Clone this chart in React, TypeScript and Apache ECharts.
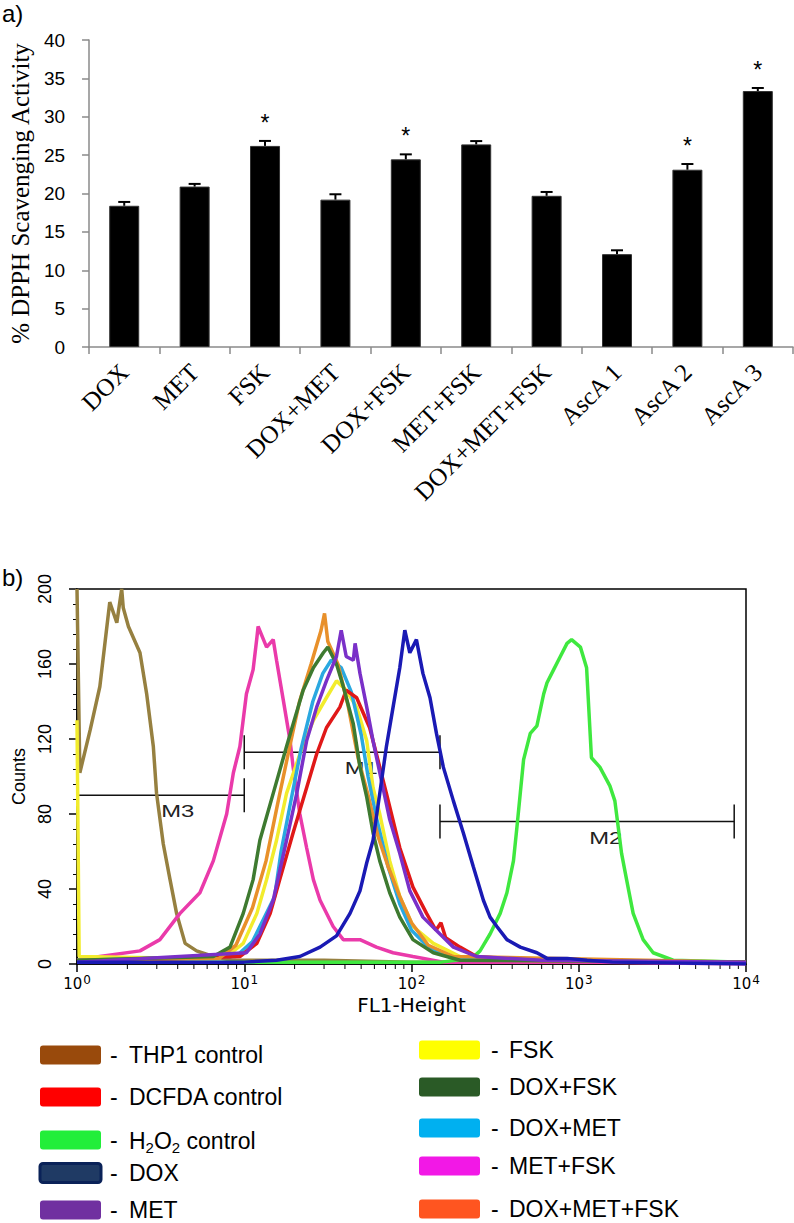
import React, { useEffect, useRef } from 'react';
import * as echarts from 'echarts';

// ---------- Panel a) DPPH scavenging ----------
const categories = ['DOX', 'MET', 'FSK', 'DOX+MET', 'DOX+FSK', 'MET+FSK', 'DOX+MET+FSK', 'AscA 1', 'AscA 2', 'AscA 3'];
const scavenging = [18.4, 20.9, 26.2, 19.2, 24.45, 26.4, 19.7, 12.1, 23.1, 33.35];
const scavengingErr = [0.5, 0.35, 0.65, 0.7, 0.65, 0.43, 0.5, 0.5, 0.74, 0.4];
const significant = [0, 0, 1, 0, 1, 0, 0, 0, 1, 1];

// ---------- Panel b) flow cytometry histogram ([FL1-Height, Counts]) ----------
const thp1Control = [[1, 200], [1.04, 102], [1.2, 125], [1.37, 148], [1.5, 178], [1.57, 193], [1.73, 182], [1.85, 200], [1.89, 190], [2.03, 180], [2.38, 166], [2.61, 144], [2.86, 116], [2.99, 91], [3.28, 64], [3.6, 45], [3.94, 27], [4.43, 11], [5.19, 7], [6.53, 4], [8.5, 2], [30, 2], [100, 1], [1000, 1], [10000, 1]];
const dcfdaControl = [[1, 1], [9.42, 4], [11.9, 11], [14.3, 27], [16.3, 45], [19.6, 70], [23.6, 94], [27.1, 112], [31.0, 126], [37.3, 137], [40.7, 146], [47, 142], [56.2, 126], [61.7, 112], [70.8, 91], [85.1, 62], [102, 41], [123, 27], [140, 18], [150, 22], [160, 14], [195, 9], [245, 4], [500, 2], [10000, 1]];
const h2o2Control = [[1, 1], [150, 1], [230, 3], [257, 7], [295, 16], [339, 27], [372, 38], [407, 55], [427, 73], [447, 91], [468, 109], [513, 123], [562, 127], [617, 144], [646, 150], [708, 157], [776, 164], [851, 171], [906, 173], [1023, 169], [1114, 158], [1191, 110], [1337, 105], [1535, 95], [1644, 87], [1722, 73], [1803, 59], [1932, 45], [2115, 27], [2427, 13], [2786, 6], [3670, 2], [10000, 1]];
const dox = [[1, 1], [10, 1], [15.6, 2], [21.5, 4], [28.4, 9], [35.6, 15], [42.9, 27], [49.2, 39], [54, 54], [58.9, 66], [64.6, 91], [70.8, 116], [77.6, 137], [85.1, 158], [91.2, 178], [97.7, 166], [107, 173], [117, 155], [129, 142], [141, 123], [155, 105], [178, 87], [204, 70], [234, 52], [269, 34], [295, 25], [324, 20], [372, 13], [447, 9], [562, 6], [646, 3], [851, 3], [1122, 2], [1585, 1], [10000, 0]];
const met = [[1, 1], [10.3, 6], [12.4, 16], [14.9, 34], [17.9, 66], [20.6, 91], [23.6, 119], [27.1, 137], [31.0, 151], [35.6, 164], [38.0, 178], [40.7, 164], [44.9, 162], [46, 171], [49.2, 155], [54.0, 137], [58.9, 119], [64.6, 102], [74.1, 77], [85.1, 59], [97.7, 39], [117, 25], [148, 16], [178, 9], [245, 4], [600, 2], [10000, 1]];
const fsk = [[1, 130], [1.03, 4], [5, 3], [7.85, 4], [9.86, 11], [11.9, 27], [13.6, 45], [15.6, 66], [17.9, 91], [21.5, 112], [25.9, 130], [31.0, 142], [35.6, 151], [40.7, 146], [47.0, 137], [54.0, 119], [58.9, 94], [64.6, 80], [74.1, 55], [85.1, 36], [102, 20], [135, 11], [195, 4], [400, 2], [10000, 1]];
const doxFsk = [[1, 2], [6.53, 4], [8.22, 9], [9.86, 27], [11.3, 45], [12.4, 66], [14.9, 91], [17.9, 116], [19.6, 128], [22.5, 146], [25.9, 158], [29.7, 166], [31.6, 169], [35.6, 160], [39.1, 148], [44.9, 128], [49.2, 105], [54.0, 89], [58.9, 70], [64.6, 55], [74.1, 38], [85.1, 25], [102, 13], [135, 6], [195, 2], [10000, 1]];
const doxMet = [[1, 2], [8.91, 4], [11.2, 12], [15.2, 36], [16.6, 60], [19.1, 88], [21.9, 115], [25.7, 140], [29.5, 155], [33.1, 162], [38.0, 158], [43.7, 145], [50.1, 122], [55, 100], [61.7, 78], [72.4, 52], [85.1, 32], [100, 18], [126, 9], [178, 3], [10000, 1]];
const metFsk = [[1, 2], [1.37, 4], [2.38, 7], [3.13, 13], [4.13, 27], [5.43, 38], [6.53, 55], [7.85, 80], [8.61, 102], [9.42, 116], [10.3, 144], [11.3, 157], [11.9, 174], [12.1, 180], [13.6, 169], [14.9, 173], [15.6, 162], [17.1, 141], [18.8, 119], [19.6, 105], [21.5, 80], [23.6, 62], [25.9, 45], [28.4, 34], [34.0, 20], [39.1, 13], [49.2, 13], [61.7, 9], [77.6, 6], [102, 4], [155, 1], [1000, 1], [10000, 0]];
const doxMetFsk = [[1, 2], [7.08, 3], [8.91, 10], [11.2, 30], [13.5, 55], [15.8, 85], [18.6, 115], [21.4, 140], [25.1, 160], [28.8, 178], [30.2, 187], [31.6, 172], [36.3, 160], [41.7, 138], [47.9, 110], [55, 90], [63.1, 68], [72.4, 52], [85.1, 36], [100, 22], [126, 10], [178, 4], [10000, 1]];

const histNames = ['THP1 control', 'MET+FSK', 'H2O2 control', 'FSK', 'DOX+MET', 'DCFDA control', 'DOX+MET+FSK', 'DOX+FSK', 'MET', 'DOX'];
const histData = [thp1Control, metFsk, h2o2Control, fsk, doxMet, dcfdaControl, doxMetFsk, doxFsk, met, dox];
const histColors = ['#968040', '#EA3AAA', '#3FE83F', '#F2EC2C', '#2AA8E0', '#E01818', '#E8902A', '#3E7A30', '#7A30C8', '#1A1AB4'];

const gateNames = ['M3', 'M1', 'M2'];
const gateFrom = [1, 10, 148];
const gateTo = [10, 148, 8500];
const gateLevel = [90, 113, 76];
const gateLabelX = [4.0, 50, 1450];

const minorMultipliers = [2, 3, 4, 5, 6, 7, 8, 9];
const decades = [1, 10, 100, 1000];

// ---------- Legend ----------
const legendLeftNames = ['THP1 control', 'DCFDA control', 'H2O2 control', 'DOX', 'MET'];
const legendLeftColors = ['#994A0C', '#FF0000', '#22EE3A', '#1F3A64', '#7030A0'];
const legendRightNames = ['FSK', 'DOX+FSK', 'DOX+MET', 'MET+FSK', 'DOX+MET+FSK'];
const legendRightColors = ['#FFFF00', '#2A5A26', '#00B0F0', '#F218E6', '#FF5520'];
const legendLeftRows = [1055, 1097, 1140, 1173, 1210];
const legendRightRows = [1050, 1087, 1128, 1166, 1209];

const SANS = '"Liberation Sans", Arial, sans-serif';
const SERIF = '"Liberation Serif", "Times New Roman", serif';
const WIDE = '"DejaVu Sans", sans-serif';

function legendItems(names: string[], colors: string[], rows: number[], rectX: number, dashX: number, textX: number) {
  const out: any[] = [];
  names.forEach((n, i) => {
    const c = rows[i];
    const isDox = n === 'DOX';
    out.push({
      type: 'rect',
      shape: { x: rectX, y: c - 9.5, width: 61, height: 19, r: 3 },
      style: isDox ? { fill: colors[i], stroke: '#0A2258', lineWidth: 3 } : { fill: colors[i] },
    });
    out.push({
      type: 'text', x: dashX, y: c,
      style: { text: '-', fontFamily: SANS, fontSize: 23, lineHeight: 23, fill: '#000', align: 'left', verticalAlign: 'middle' },
    });
    if (n === 'H2O2 control') {
      out.push({
        type: 'text', x: textX, y: c + 2,
        style: {
          text: '{a|H}{s|2}{a|O}{s|2}{a| control}',
          align: 'left', verticalAlign: 'middle',
          rich: {
            a: { fontFamily: SANS, fontSize: 23, fill: '#000', lineHeight: 26, verticalAlign: 'top' },
            s: { fontFamily: SANS, fontSize: 15, fill: '#000', lineHeight: 15, verticalAlign: 'bottom', padding: [14, 0, 0, 0] },
          },
        },
      });
    } else {
      out.push({
        type: 'text', x: textX, y: c,
        style: { text: n, fontFamily: SANS, fontSize: 23, lineHeight: 23, fill: '#000', align: 'left', verticalAlign: 'middle' },
      });
    }
  });
  return out;
}

export default function App() {
  const ref = useRef<HTMLDivElement>(null);
  useEffect(() => {
    if (!ref.current) return;
    const chart = echarts.init(ref.current, null, { renderer: 'svg' });

    const errData = categories.map((_, i) => [i, scavenging[i], scavengingErr[i], significant[i]]);
    const gateData = gateNames.map((_, i) => [gateFrom[i], gateTo[i], gateLevel[i], gateLabelX[i]]);
    const minorData: number[][] = [];
    decades.forEach((d) => minorMultipliers.forEach((m) => minorData.push([m * d, 0])));

    const option: any = {
      animation: false,
      backgroundColor: '#fff',
      grid: [
        { left: 77, top: 40, width: 716, height: 307 },
        { left: 77, top: 589, width: 669, height: 375, show: true, borderColor: '#000', borderWidth: 1.5, backgroundColor: 'transparent' },
      ],
      xAxis: [
        {
          gridIndex: 0, type: 'category', data: categories,
          axisLine: { lineStyle: { color: '#8a8a8a', width: 1.5 } },
          axisTick: { show: true, length: 7, lineStyle: { color: '#8a8a8a', width: 1.5 } },
          axisLabel: { interval: 0, rotate: 45, margin: 21, fontFamily: SERIF, fontSize: 25, color: '#000' },
          splitLine: { show: false },
        },
        {
          gridIndex: 1, type: 'log', logBase: 10, min: 1, max: 10000,
          axisLine: { onZero: false, lineStyle: { color: '#000', width: 1.5 } },
          axisTick: { show: true, length: 8, lineStyle: { color: '#000', width: 1.5 } },
          splitLine: { show: false },
          axisLabel: {
            margin: 10,
            formatter: (v: number) => `{b|10}{s|${Math.round(Math.log10(v))}}`,
            rich: {
              b: { fontFamily: WIDE, fontSize: 15, color: '#000', verticalAlign: 'bottom', lineHeight: 17 },
              s: { fontFamily: WIDE, fontSize: 12, color: '#000', verticalAlign: 'top', lineHeight: 13, padding: [0, 0, 8, 1] },
            },
          },
          name: 'FL1-Height', nameLocation: 'middle', nameGap: 28,
          nameTextStyle: { fontFamily: WIDE, fontSize: 20, color: '#000' },
        },
      ],
      yAxis: [
        {
          gridIndex: 0, type: 'value', min: 0, max: 40, interval: 5,
          axisLine: { show: true, lineStyle: { color: '#8a8a8a', width: 1.5 } },
          axisTick: { show: true, length: 7, lineStyle: { color: '#8a8a8a', width: 1.5 } },
          splitLine: { show: false },
          axisLabel: { fontFamily: SANS, fontSize: 19, color: '#000', margin: 24 },
          name: '% DPPH Scavenging Activity', nameLocation: 'middle', nameGap: 52,
          nameTextStyle: { fontFamily: SERIF, fontSize: 25, color: '#000' },
        },
        {
          gridIndex: 1, type: 'value', min: 0, max: 200, interval: 40,
          axisLine: { show: true, onZero: false, lineStyle: { color: '#000', width: 1.5 } },
          axisTick: { show: true, length: 8, lineStyle: { color: '#000', width: 1.5 } },
          minorTick: { show: true, splitNumber: 5, length: 4, lineStyle: { color: '#000', width: 1 } },
          splitLine: { show: false },
          minorSplitLine: { show: false },
          axisLabel: { rotate: 90, margin: 23, fontFamily: SANS, fontSize: 18, color: '#000' },
          name: 'Counts', nameLocation: 'middle', nameGap: 48,
          nameTextStyle: { fontFamily: SANS, fontSize: 18, color: '#000' },
        },
      ],
      series: [
        {
          type: 'bar', xAxisIndex: 0, yAxisIndex: 0, data: scavenging, barWidth: 30,
          itemStyle: { color: '#000', borderColor: '#333', borderWidth: 1 }, silent: true,
        },
        {
          type: 'custom', xAxisIndex: 0, yAxisIndex: 0, data: errData, encode: { x: 0, y: 1 }, silent: true, z: 3,
          renderItem: (params: any, api: any) => {
            const x = api.value(0);
            const v = api.value(1);
            const e = api.value(2);
            const s = api.value(3);
            const base = api.coord([x, v]);
            const top = api.coord([x, v + e]);
            const children: any[] = [
              { type: 'line', shape: { x1: base[0], y1: base[1], x2: top[0], y2: top[1] }, style: { stroke: '#000', lineWidth: 2 } },
              { type: 'line', shape: { x1: top[0] - 6, y1: top[1], x2: top[0] + 6, y2: top[1] }, style: { stroke: '#000', lineWidth: 2 } },
            ];
            if (s) {
              children.push({
                type: 'text', x: top[0], y: top[1] - 18,
                style: { text: '*', fontFamily: SANS, fontSize: 23, fill: '#000', align: 'center', verticalAlign: 'middle' },
              });
            }
            return { type: 'group', children };
          },
        },
        {
          type: 'custom', xAxisIndex: 1, yAxisIndex: 1, data: gateData, encode: { x: [0, 1, 3], y: 2 }, silent: true,
          renderItem: (params: any, api: any) => {
            const a = api.coord([api.value(0), api.value(2)]);
            const b = api.coord([api.value(1), api.value(2)]);
            const lx = api.coord([api.value(3), api.value(2)])[0];
            const h = 17;
            const st = { stroke: '#111', lineWidth: 1.5 };
            return {
              type: 'group',
              children: [
                { type: 'line', shape: { x1: a[0], y1: a[1], x2: b[0], y2: b[1] }, style: st },
                { type: 'line', shape: { x1: a[0], y1: a[1] - h, x2: a[0], y2: a[1] + h }, style: st },
                { type: 'line', shape: { x1: b[0], y1: b[1] - h, x2: b[0], y2: b[1] + h }, style: st },
                {
                  type: 'text', x: lx, y: a[1] + 16, scaleX: 1.4,
                  style: { text: gateNames[params.dataIndex], fontFamily: SANS, fontSize: 17, fill: '#222', align: 'center', verticalAlign: 'middle' },
                },
              ],
            };
          },
        },
        {
          type: 'custom', xAxisIndex: 1, yAxisIndex: 1, data: minorData, encode: { x: 0, y: 1 }, silent: true,
          renderItem: (params: any, api: any) => {
            const p = api.coord([api.value(0), 0]);
            return { type: 'line', shape: { x1: p[0], y1: p[1], x2: p[0], y2: p[1] + 5 }, style: { stroke: '#000', lineWidth: 1 } };
          },
        },
        ...histData.map((d, i) => ({
          type: 'line', name: histNames[i], xAxisIndex: 1, yAxisIndex: 1, data: d,
          showSymbol: false, symbol: 'none', silent: true,
          lineStyle: { color: histColors[i], width: 3.5 },
        })),
      ],
      graphic: [
        { type: 'text', x: 2, y: 1, style: { text: 'a)', fontFamily: SANS, fontSize: 24, fill: '#000', align: 'left', verticalAlign: 'top' } },
        { type: 'text', x: 2, y: 565, style: { text: 'b)', fontFamily: SANS, fontSize: 24, fill: '#000', align: 'left', verticalAlign: 'top' } },
        ...legendItems(legendLeftNames, legendLeftColors, legendLeftRows, 40, 110, 129),
        ...legendItems(legendRightNames, legendRightColors, legendRightRows, 419, 491, 509),
      ],
    };

    chart.setOption(option);
    return () => chart.dispose();
  }, []);

  return <div ref={ref} style={{ position: 'absolute', left: 0, top: 0, width: 794, height: 1223, background: '#fff' }} />;
}
